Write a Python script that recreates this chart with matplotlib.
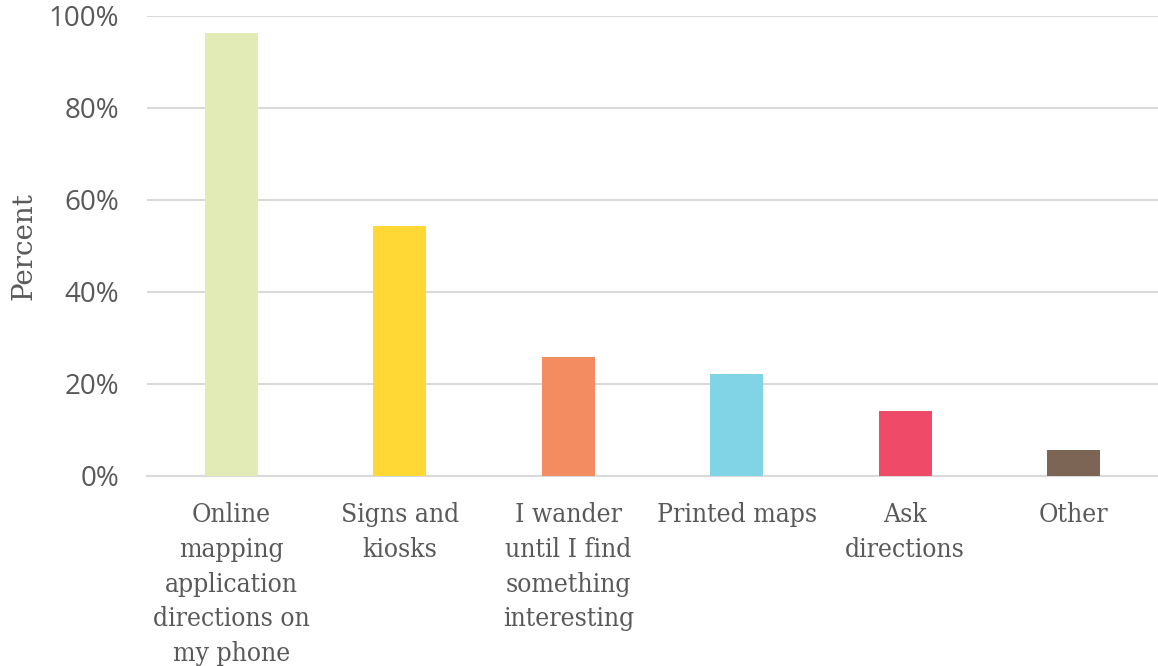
import numpy as np
import matplotlib.pyplot as plt
from matplotlib.ticker import PercentFormatter

categories = [
    "Online\nmapping\napplication\ndirections on\nmy phone",
    "Signs and\nkiosks",
    "I wander\nuntil I find\nsomething\ninteresting",
    "Printed maps",
    "Ask\ndirections",
    "Other",
]
values = [96.4, 54.3, 25.9, 22.2, 14.1, 5.7]
colors = ["#e2ebb5", "#ffd835", "#f48c62", "#80d4e6", "#ef4a68", "#7d6556"]
yticks = [0, 20, 40, 60, 80, 100]

text_color = "#595959"
grid_color = "#d9d9d9"

fig = plt.figure(figsize=(11.58, 6.66), dpi=100)
ax = fig.add_axes([147 / 1158, 190 / 666, 1011 / 1158, 460 / 666])

x = np.arange(len(categories))
ax.bar(x, values, width=0.315, color=colors, zorder=3)

ax.set_xlim(-0.5, len(categories) - 0.5)
ax.set_ylim(0, 100)
ax.set_yticks(yticks)
ax.yaxis.set_major_formatter(PercentFormatter(decimals=0))
ax.grid(axis="y", color=grid_color, linewidth=1.5, zorder=0)
ax.set_axisbelow(True)

for side in ["top", "right", "left"]:
    ax.spines[side].set_visible(False)
ax.spines["bottom"].set_color(grid_color)
ax.spines["bottom"].set_linewidth(1.5)

ax.tick_params(axis="y", length=0, pad=20, labelsize=20, labelcolor=text_color)
ax.tick_params(axis="x", length=0, pad=19)
for lbl in ax.get_yticklabels():
    lbl.set_family("Open Sans")

ax.set_xticks(x)
ax.set_xticklabels(categories, family="DejaVu Serif", fontstretch="condensed",
                   fontsize=19, color=text_color, linespacing=1.48, va="top")

ax.set_ylabel("Percent", family="DejaVu Serif", fontsize=20, color=text_color)
ax.yaxis.set_label_coords(-0.108, 0.5)

fig.savefig("out.png", dpi=100)
